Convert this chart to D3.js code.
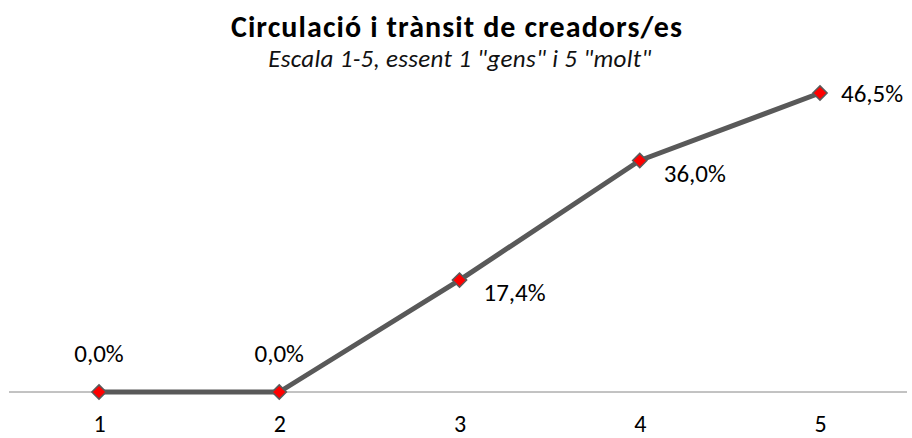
<!DOCTYPE html>
<html><head><meta charset="utf-8">
<script src="https://cdn.jsdelivr.net/npm/d3@7/dist/d3.min.js"></script>
<style>body{margin:0;background:#fff}svg{display:block}text{font-family:Carlito,Lato,"Open Sans",sans-serif}</style>
</head><body><svg id="c" width="912" height="438"></svg>
<script>
const categories = ["1","2","3","4","5"];
const values = [0.0, 0.0, 17.4, 36.0, 46.5];
const labelPos = ["above","above","belowRight","belowRight","right"];
const title = "Circulació i trànsit de creadors/es";
const subtitle = "Escala 1-5, essent 1 \"gens\" i 5 \"molt\"";

const svg = d3.select("#c");
const x = d3.scalePoint().domain(categories).range([99, 820]);
const y = d3.scaleLinear().domain([0, 50]).range([392, 70.5]);

svg.append("text").attr("x",457).attr("y",37).attr("text-anchor","middle")
  .attr("font-size",30).attr("letter-spacing",1.1).attr("font-weight","bold").attr("fill","#000").text(title);
svg.append("text").attr("x",460).attr("y",67).attr("text-anchor","middle")
  .attr("font-size",25).attr("letter-spacing",0.3).attr("font-style","italic").attr("fill","#111").text(subtitle);

const ax = svg.append("g").attr("transform","translate(0,392)")
  .call(d3.axisBottom(x).tickSize(0).tickPadding(23));
ax.select(".domain").remove();
ax.insert("line",":first-child").attr("x1",9).attr("x2",907).attr("stroke","#868686").attr("stroke-width",1);
ax.selectAll(".tick text").attr("font-size",24).attr("fill","#000").attr("font-family","Carlito,Lato,'Open Sans',sans-serif");

const line = d3.line().x((d,i)=>x(categories[i])).y(d=>y(d));
svg.append("path").datum(values).attr("d",line).attr("fill","none")
  .attr("stroke","#595959").attr("stroke-width",5).attr("stroke-linejoin","round");

const sym = d3.symbol().type(d3.symbolDiamond2).size(130);
svg.selectAll(".m").data(values).join("path")
  .attr("transform",(d,i)=>`translate(${x(categories[i])},${y(d)})`)
  .attr("d",sym).attr("fill","#ff0000").attr("stroke","#5a5a5a").attr("stroke-width",1.5);

const fmt = v => v.toFixed(1).replace(".",",")+"%";
svg.selectAll(".lbl").data(values).join("text")
  .attr("x",(d,i)=> labelPos[i]==="above" ? x(categories[i]) : x(categories[i]) + (labelPos[i]==="right"?21:24))
  .attr("y",(d,i)=> labelPos[i]==="above" ? y(d)-30 : labelPos[i]==="right" ? y(d)+9 : y(d)+21)
  .attr("text-anchor",(d,i)=> labelPos[i]==="above" ? "middle" : "start")
  .attr("font-size",25).attr("fill","#000").text(fmt);
</script></body></html>
